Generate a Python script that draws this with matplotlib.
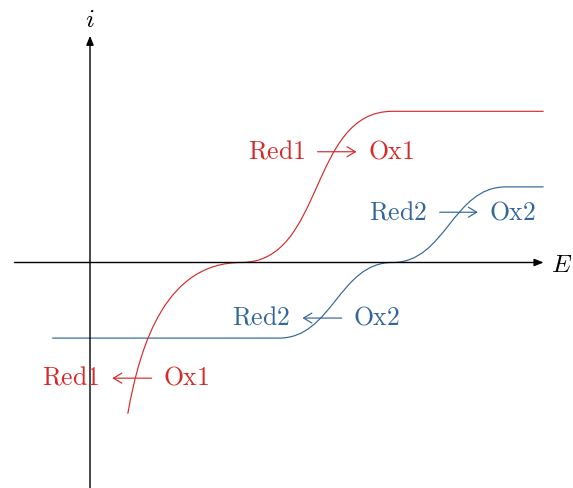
import numpy as np
import matplotlib
matplotlib.use('Agg')
import matplotlib.pyplot as plt
from matplotlib.path import Path
from matplotlib.patches import PathPatch

plt.rcParams['mathtext.fontset'] = 'cm'

red = '#d62a2a'
blue = '#33669a'

# curve nodes (E, i) and tangent angles at the ends of each segment
# None -> straight segment
red_x = [1, 4, 8, 12]
red_y = [-4, 0, 4, 4]
red_out = [80, 0, None]
red_in = [180, 180, None]

blue_x = [-1, 5, 8, 11, 12]
blue_y = [-2, -2, 0, 2, 2]
blue_out = [None, 0, 0, None]
blue_in = [None, 180, 180, None]

# reaction labels: (left text, right text, arrow direction, baseline,
# right edge of left text, left edge of right text, colour)
labels = [
    ('Red1', 'Ox1', 'right', 2.75, 5.69, 7.35, red),
    ('Red2', 'Ox2', 'right', 1.15, 8.92, 10.56, blue),
    ('Red2', 'Ox2', 'left', -1.65, 5.29, 6.96, blue),
    ('Red1', 'Ox1', 'left', -3.24, 0.26, 1.93, red),
]


def curve_path(xs, ys, outs, ins):
    # same construction as tikz "to[out=..,in=..]" with looseness 1
    verts = [(xs[0], ys[0])]
    codes = [Path.MOVETO]
    for k in range(len(xs) - 1):
        x0, y0, x1, y1 = xs[k], ys[k], xs[k + 1], ys[k + 1]
        if outs[k] is None:
            verts.append((x1, y1))
            codes.append(Path.LINETO)
            continue
        d = 0.3915 * np.hypot(x1 - x0, y1 - y0)
        a = np.radians(outs[k])
        b = np.radians(ins[k])
        verts += [(x0 + d * np.cos(a), y0 + d * np.sin(a)),
                  (x1 + d * np.cos(b), y1 + d * np.sin(b)),
                  (x1, y1)]
        codes += [Path.CURVE4] * 3
    return Path(verts, codes)


fig = plt.figure(figsize=(5.73, 4.88), dpi=100)
ax = fig.add_axes([0, 0, 1, 1])
ax.set_xlim(-90 / 37.8, 483 / 37.8)
ax.set_ylim(-225.5 / 37.8, 262.5 / 37.8)
ax.axis('off')

# axes with arrows
axis_arrow = dict(arrowstyle='-|>,head_length=0.5,head_width=0.2',
                  lw=1.0, color='black', shrinkA=0, shrinkB=0,
                  mutation_scale=11)
ax.annotate('', xy=(12, 0), xytext=(-2, 0), arrowprops=axis_arrow)
ax.annotate('', xy=(0, 6), xytext=(0, -6), arrowprops=axis_arrow)
ax.text(12.2, -0.25, '$E$', fontsize=18, ha='left', va='baseline')
ax.text(0, 6.24, '$i$', fontsize=18.5, ha='center', va='baseline')

ax.add_patch(PathPatch(curve_path(blue_x, blue_y, blue_out, blue_in),
                       fc='none', ec=blue, lw=0.85))
ax.add_patch(PathPatch(curve_path(red_x, red_y, red_out, red_in),
                       fc='none', ec=red, lw=0.85))

for left, right, direction, base, xl, xr, c in labels:
    ax.text(xl, base, r'$\mathrm{%s}$' % left, fontsize=18.5, color=c,
            ha='right', va='baseline')
    ax.text(xr, base, r'$\mathrm{%s}$' % right, fontsize=18.5, color=c,
            ha='left', va='baseline')
    a0, a1 = xl + 0.33, xr - 0.3
    if direction == 'left':
        a0, a1 = a1, a0
    ax.annotate('', xy=(a1, base + 0.18), xytext=(a0, base + 0.18),
                arrowprops=dict(arrowstyle='->,head_length=0.5,head_width=0.3',
                                lw=0.85, color=c, shrinkA=0, shrinkB=0,
                                mutation_scale=12))

fig.savefig('out.png', dpi=100)
